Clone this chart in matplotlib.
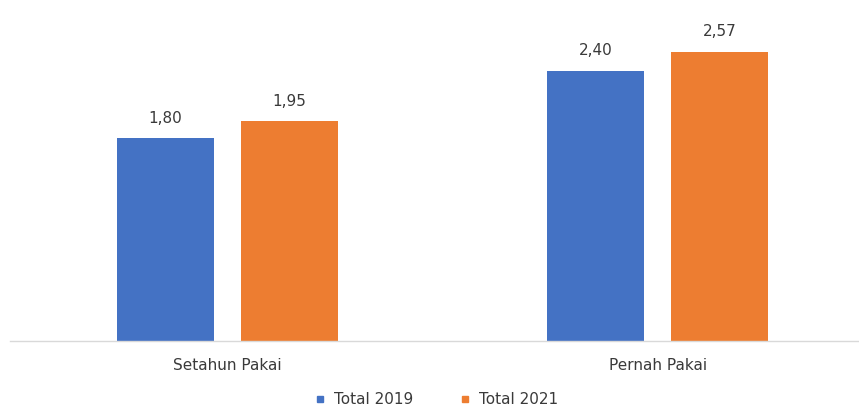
import matplotlib
matplotlib.use("Agg")
import matplotlib.pyplot as plt
from matplotlib.lines import Line2D
import numpy as np

categories = ["Setahun Pakai", "Pernah Pakai"]
series_names = ["Total 2019", "Total 2021"]
values_2019 = [1.80, 2.40]
values_2021 = [1.95, 2.57]
colors = ["#4472C4", "#ED7D31"]

plt.rcParams['font.family'] = ['Liberation Sans Narrow', 'DejaVu Sans']
text_color = "#3A3A3A"

W, H = 859, 412
fig = plt.figure(figsize=(W / 100, H / 100), dpi=100)
ax = fig.add_axes([10 / W, 71 / H, (858 - 10) / W, (341 - 10) / H])

x = np.arange(len(categories))
bw = 0.225
off = 0.144
b1 = ax.bar(x - off, values_2019, bw, color=colors[0], label=series_names[0])
b2 = ax.bar(x + off, values_2021, bw, color=colors[1], label=series_names[1])

for bars, vals in ((b1, values_2019), (b2, values_2021)):
    for r, v in zip(bars, vals):
        ax.annotate(f"{v:.2f}".replace(".", ","),
                    (r.get_x() + r.get_width() / 2, r.get_height()),
                    xytext=(0, 9), textcoords="offset points",
                    ha="center", va="bottom", fontsize=11, color=text_color,
                    fontweight="medium")

ax.set_xlim(-0.505, 1.465)
ax.set_ylim(0, 2.94)
ax.set_xticks(x)
ax.set_xticklabels(categories, fontsize=11, color=text_color)
ax.tick_params(axis="x", length=0, pad=12)
ax.set_yticks([])
for s in ("top", "right", "left"):
    ax.spines[s].set_visible(False)
ax.spines["bottom"].set_color("#D9D9D9")
ax.spines["bottom"].set_linewidth(1.0)

handles = [Line2D([], [], marker="s", linestyle="", markersize=5,
                  markerfacecolor=c, markeredgecolor=c) for c in colors]
fig.legend(handles, series_names, loc="lower center",
           bbox_to_anchor=(436 / W, -0.022), ncol=2, frameon=False,
           fontsize=11, labelcolor=text_color, handletextpad=0.5,
           columnspacing=3.0, handlelength=0.8)

fig.savefig("out.png", dpi=100)
